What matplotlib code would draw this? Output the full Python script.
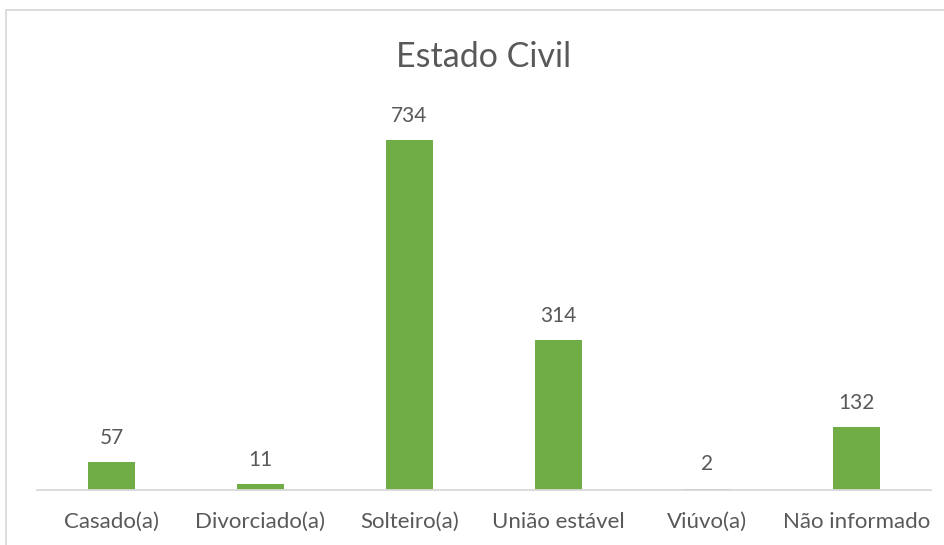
import matplotlib.pyplot as plt
from matplotlib.patches import Rectangle

categorias = ["Casado(a)", "Divorciado(a)", "Solteiro(a)", "União estável", "Viúvo(a)", "Não informado"]
valores = [57, 11, 734, 314, 2, 132]

verde = "#70AD47"
cinza_txt = "#595959"
cinza_linha = "#D9D9D9"

plt.rcParams['font.family'] = ['Lato', 'DejaVu Sans']

fig = plt.figure(figsize=(9.45, 5.45), dpi=100)
ax = fig.add_axes([37/945, 55.5/545, (931-37)/945, 380.5/545])

x = list(range(len(categorias)))
ax.bar(x, valores, width=0.315, color=verde, zorder=2)
for i, v in zip(x, valores):
    ax.annotate(str(v), (i, v), xytext=(0, 13), textcoords='offset points',
                ha='center', va='baseline', fontsize=15, color=cinza_txt)

ax.set_xlim(-0.5, len(categorias) - 0.5)
ax.set_ylim(0, 800)
ax.set_xticks(x)
ax.set_xticklabels(categorias, fontsize=16, color=cinza_txt)
ax.tick_params(axis='x', length=0, pad=16)
ax.set_yticks([])
for s in ['top', 'right', 'left']:
    ax.spines[s].set_visible(False)
ax.spines['bottom'].set_color(cinza_linha)
ax.spines['bottom'].set_linewidth(1.3)

fig.text(484/945, 1 - 67/545, "Estado Civil", ha='center', va='baseline',
         fontsize=24.5, color=cinza_txt)

# borda da área do gráfico (estilo Excel)
fig.patches.append(Rectangle((6.5/945, -0.1), 1.2, 1.1 - 10/545, transform=fig.transFigure,
                             fill=False, edgecolor=cinza_linha, linewidth=1.3))

fig.savefig("out.png", dpi=100)
